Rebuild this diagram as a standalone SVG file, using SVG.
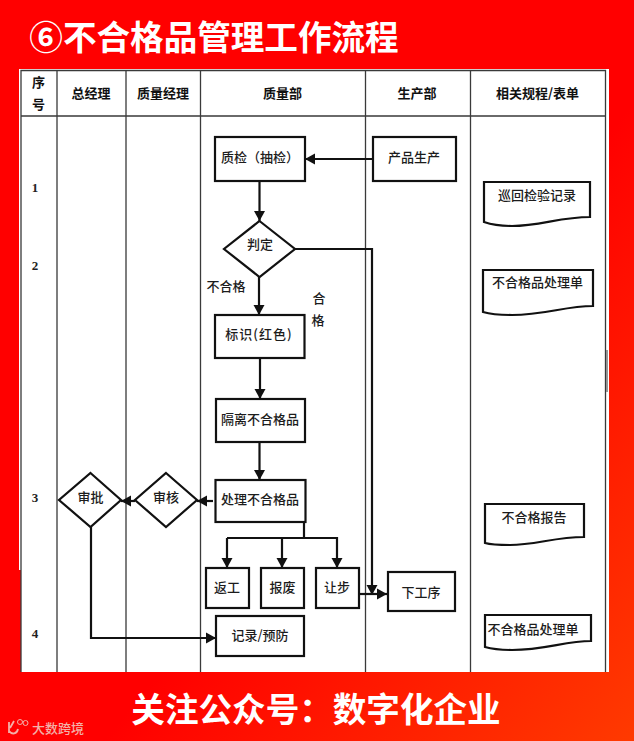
<svg xmlns="http://www.w3.org/2000/svg" width="634" height="741" viewBox="0 0 634 741">
<style>
text{font-family:"Noto Sans CJK SC","Noto Sans",sans-serif;fill:#1c1c1c;font-size:13px;text-anchor:middle;font-weight:500}
.h{font-weight:700;fill:#111}
.big{font-weight:700;fill:#fff;font-size:33.6px}
.n{font-family:"Liberation Serif",serif;font-size:13px;fill:#222;font-weight:700}
.grid{stroke:#3a3a3a;stroke-width:1.3;fill:none}
.s{fill:#fff;stroke:#111;stroke-width:2.2}
.c{fill:none;stroke:#111;stroke-width:2.2}
.a{marker-end:url(#ah)}
</style>
<defs>
<linearGradient id="bg" gradientUnits="userSpaceOnUse" x1="320" y1="480" x2="634" y2="741">
<stop offset="0" stop-color="#ff0000"/><stop offset="1" stop-color="#ff3a00"/>
</linearGradient>
<marker id="ah" markerUnits="userSpaceOnUse" markerWidth="11" markerHeight="12" refX="10" refY="6" orient="auto">
<path d="M0,0.5L10,6L0,11.5Z" fill="#111"/>
</marker>
</defs>
<rect width="634" height="741" fill="url(#bg)"/>
<g id="panel">
<rect x="21" y="69" width="588" height="603" fill="#fff"/>
<rect x="19" y="69" width="2" height="501" fill="#fff"/>
<path class="grid" d="M21,672V70.500H605.500V672"/>
<path class="grid" d="M57,70V672M126,70V672M200.500,70V672M365.500,70V672M470.500,70V672M21,116H605"/>
<path d="M607,350V392" stroke="#777" stroke-width="1.500"/>
</g>
<g id="title"><text class="big" x="214" y="50">⑥不合格品管理工作流程</text></g>
<g id="headers">
<text class="h" x="38.500" y="87">序</text><text class="h" x="38.500" y="109">号</text>
<text class="h" x="91" y="98">总经理</text>
<text class="h" x="163" y="98">质量经理</text>
<text class="h" x="282.500" y="98">质量部</text>
<text class="h" x="417" y="98">生产部</text>
<text class="h" x="537.500" y="98">相关规程/表单</text>
</g>
<g id="row-numbers">
<text class="n" x="35" y="192">1</text><text class="n" x="35" y="270">2</text><text class="n" x="35" y="502">3</text><text class="n" x="35" y="638">4</text>
</g>
<g id="connectors">
<path class="c a" d="M373,159H305"/>
<path class="c a" d="M259.500,181V221"/>
<path class="c a" d="M259,277V315"/>
<path class="c a" d="M260,358V399"/>
<path class="c a" d="M259.500,442V480"/>
<path class="c a" d="M213,501H197"/>
<path class="c a" d="M135,501H121"/>
<path class="c a" d="M91,527V638H216"/>
<path class="c" d="M304,522V538H227"/>
<path class="c a" d="M227,538V568"/>
<path class="c a" d="M282,538V568"/>
<path class="c a" d="M304,538H337V568"/>
<path class="c a" d="M295,249H372V595"/>
<path class="c a" d="M359,594H387"/>
</g>
<g id="n-inspect"><rect class="s" x="215" y="137" width="90" height="44"/><text x="260" y="162">质检（抽检）</text></g>
<g id="n-production"><rect class="s" x="373" y="137" width="83" height="44"/><text x="414" y="162">产品生产</text></g>
<g id="n-judge"><path class="s" d="M259.500,221L295,249L259.500,277L224,249Z"/><text x="260" y="249">判定</text></g>
<g id="n-mark"><rect class="s" x="215" y="315" width="89.500" height="43"/><text x="259" y="339" letter-spacing="1">标识(红色)</text></g>
<g id="n-isolate"><rect class="s" x="216" y="399" width="89" height="43"/><text x="260" y="424">隔离不合格品</text></g>
<g id="n-handle"><rect class="s" x="215.500" y="480" width="90" height="42"/><text x="260" y="504">处理不合格品</text></g>
<g id="n-review"><path class="s" d="M166,473L197,500L166,527L135,500Z"/><text x="166" y="502">审核</text></g>
<g id="n-approve"><path class="s" d="M90.500,473L121,500L90.500,527L59,500Z"/><text x="90.500" y="502">审批</text></g>
<g id="n-rework"><rect class="s" x="206" y="568" width="43" height="40"/><text x="227" y="592">返工</text></g>
<g id="n-scrap"><rect class="s" x="261" y="568" width="43" height="40"/><text x="282.500" y="592">报废</text></g>
<g id="n-concession"><rect class="s" x="316" y="568" width="43" height="40"/><text x="337" y="592">让步</text></g>
<g id="n-next"><rect class="s" x="388" y="572" width="67" height="39"/><text x="421" y="597">下工序</text></g>
<g id="n-record"><rect class="s" x="216" y="616" width="88" height="40"/><text x="260" y="640">记录/预防</text></g>
<g id="labels">
<text x="226" y="291">不合格</text>
<text x="319" y="303">合</text>
<text x="318" y="325">格</text>
</g>
<g id="d-patrol"><path class="s" d="M484,182H590V217C560,217 540,226 512,226C500,226 490,224 484,222Z"/><text x="537" y="200">巡回检验记录</text></g>
<g id="d-ng1"><path class="s" d="M483,270H593V306C565,306 545,315 512,315C500,315 490,314 483,312Z"/><text x="537.500" y="287">不合格品处理单</text></g>
<g id="d-report"><path class="s" d="M485,504H584V537C555,537 535,545 510,545C500,545 492,545 485,543Z"/><text x="534" y="522">不合格报告</text></g>
<g id="d-ng2"><path class="s" d="M485,615H591V641C565,641 545,650 512,650C500,650 492,649 485,647Z"/><text x="533" y="634">不合格品处理单</text></g>
<g id="footer"><text class="big" x="316" y="722">关注公众号：数字化企业</text></g>
<g id="watermark">
<path d="M9,722V733M18,729C17,734 12,735 9,731M14,721L10,728" fill="none" stroke="#f3b0a8" stroke-width="1.800"/>
<circle cx="20" cy="722" r="2.500" fill="none" stroke="#f3b0a8"/><circle cx="25.500" cy="723" r="2.500" fill="none" stroke="#f3b0a8"/>
<text x="58" y="733" style="fill:#f3b0a8;font-size:13px">大数跨境</text>
</g>
</svg>
